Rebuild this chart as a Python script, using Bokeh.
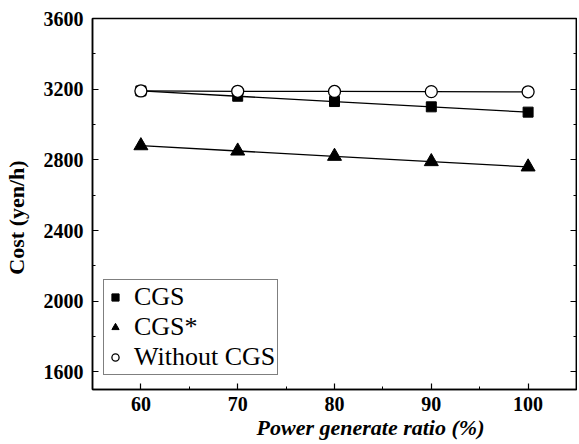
import math
from bokeh.plotting import figure
from bokeh.models import (Range1d, SingleIntervalTicker, LinearAxis, Label,
                          Legend, LegendItem, ColumnDataSource)
from bokeh.embed import file_html
from bokeh.resources import INLINE

ratio = [60, 70, 80, 90, 100]
cgs = [3190, 3160, 3130, 3100, 3070]
cgs_star = [2880, 2850, 2820, 2790, 2760]
without_cgs = [3190, 3188, 3187, 3186, 3185]

x_ticks_interval = 10
y_ticks_interval = 400

x_title = "Power generate ratio (%)"
y_title = "Cost (yen/h)"

FONT = "'Liberation Serif', 'Times New Roman', serif"

p = figure(width=577, height=442, output_backend="svg", toolbar_location=None,
           x_range=Range1d(55, 105), y_range=Range1d(1500, 3600),
           min_border_left=92, min_border_right=1, min_border_top=18,
           min_border_bottom=53)
p.background_fill_color = "white"
p.border_fill_color = "white"
p.outline_line_color = "black"
p.outline_line_width = 1.5
p.grid.visible = False

def style_axis(ax, ticker, labels=True):
    ax.ticker = ticker
    ax.axis_label = None
    ax.axis_line_color = "black"
    ax.axis_line_width = 1.5
    ax.major_tick_in = 6
    ax.major_tick_out = 0
    ax.minor_tick_in = 3
    ax.minor_tick_out = 0
    ax.major_tick_line_width = 1.2
    ax.minor_tick_line_width = 1.0
    ax.major_tick_line_color = "black"
    ax.minor_tick_line_color = "black"
    ax.major_label_text_font = FONT
    ax.major_label_text_font_style = "bold"
    ax.major_label_text_font_size = "20px"
    ax.major_label_text_color = "black"
    if not labels:
        ax.major_label_text_font_size = "0px"
        ax.major_label_text_alpha = 0
        ax.major_label_standoff = 0

xt = SingleIntervalTicker(interval=x_ticks_interval, num_minor_ticks=2)
yt = SingleIntervalTicker(interval=y_ticks_interval, num_minor_ticks=2)
style_axis(p.xaxis[0], xt)
style_axis(p.yaxis[0], yt)
p.xaxis[0].major_label_standoff = 7
p.yaxis[0].major_label_standoff = 9

ry = LinearAxis()
style_axis(ry, SingleIntervalTicker(interval=y_ticks_interval, num_minor_ticks=2), labels=False)
p.add_layout(ry, "right")

src = ColumnDataSource(dict(x=ratio, cgs=cgs, cgss=cgs_star, wo=without_cgs))

p.line("x", "cgs", source=src, line_color="black", line_width=1.3)
p.line("x", "cgss", source=src, line_color="black", line_width=1.3)
p.line("x", "wo", source=src, line_color="black", line_width=1.3)
r_sq = p.scatter("x", "cgs", source=src, marker="square", size=10,
                 fill_color="black", line_color="black")
r_tri = p.scatter("x", "cgss", source=src, marker="triangle", size=14,
                  fill_color="black", line_color="black")
r_circ = p.scatter("x", "wo", source=src, marker="circle", size=12,
                   fill_color="white", line_color="black", line_width=1.3)

legend = Legend(items=[LegendItem(label="CGS", renderers=[r_sq]),
                       LegendItem(label="CGS*", renderers=[r_tri]),
                       LegendItem(label="Without CGS", renderers=[r_circ])],
                location=(11, 14), orientation="vertical")
legend.label_text_font = FONT
legend.label_text_font_size = "26px"
legend.label_text_color = "black"
legend.glyph_width = 18
legend.glyph_height = 20
legend.label_height = 27
legend.label_standoff = 10
legend.spacing = 0
legend.padding = 2
legend.margin = 0
legend.border_line_color = "black"
legend.border_line_width = 1.5
legend.background_fill_color = "white"
legend.background_fill_alpha = 1
p.add_layout(legend, "center")

# axis titles, placed in the side panels (not clipped by the frame)
p.add_layout(Label(x=278, y=11, x_units="screen", y_units="screen",
                   text=x_title, text_font=FONT,
                   text_font_style="bold italic", text_font_size="22px",
                   text_align="center", text_baseline="middle", text_color="black"),
             "below")
p.add_layout(Label(x=1, y=172, x_units="screen", y_units="screen",
                   text=y_title, text_font=FONT, angle=math.pi / 2,
                   text_font_style="bold", text_font_size="22px",
                   text_align="center", text_baseline="middle", text_color="black"),
             "left")

open("out.html", "w").write(file_html(p, INLINE))
